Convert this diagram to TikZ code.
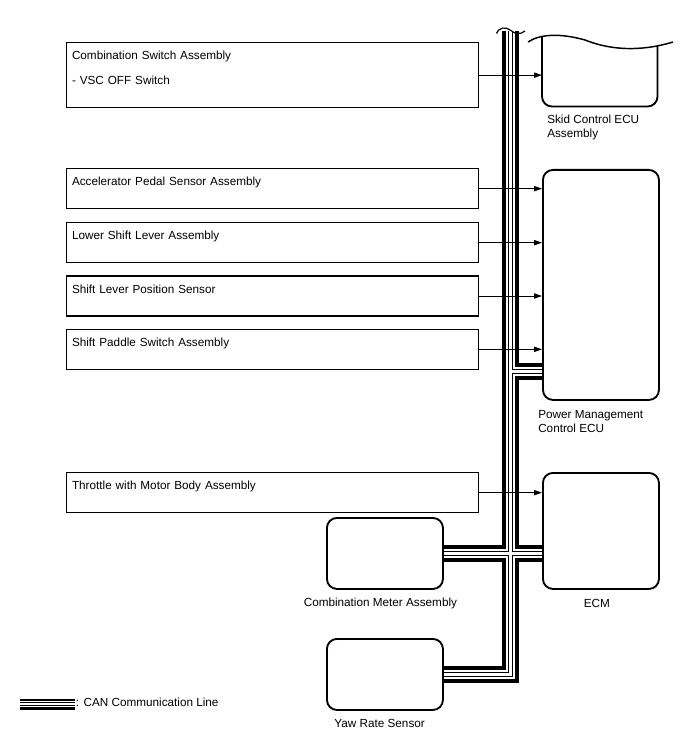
\documentclass[tikz,border=0pt]{standalone}
\usepackage{fontspec}
\setmainfont{Liberation Sans}
\usetikzlibrary{arrows.meta,positioning}

\begin{document}
\begin{tikzpicture}[
    x=0.75pt, y=-0.75pt,
    every node/.style={font=\fontsize{8.8}{10.5}\selectfont},
    inbox/.style={draw, line width=1pt, anchor=north west, align=left, text width=301pt, inner xsep=4pt, inner ysep=0pt, text height=12.75pt, text depth=17.25pt},
    ecubox/.style={draw, line width=1.4pt, rounded corners=7.5pt, anchor=north west, minimum width=87pt, inner sep=0pt},
    lbl/.style={inner sep=0pt, align=left},
    arr/.style={-{Triangle[length=6pt, width=4pt]}, line width=0.75pt},
    canline/.style={line width=12.75pt, line join=miter, postaction={draw, white, line width=7pt, line join=miter, postaction={draw, black, line width=4.3pt, line join=miter, postaction={draw, white, line width=2.2pt, line join=miter}}}},
    legline/.style={line width=8.25pt, postaction={draw, white, line width=3.9pt, postaction={draw, black, line width=2.5pt, postaction={draw, white, line width=0.8pt}}}}
]
\useasboundingbox (0,0) rectangle (688,755);

% input side
\node[inbox, text depth=36pt] (csw) at (66,42) {Combination Switch Assembly\\[8.25pt]- VSC OFF Switch};
\node[inbox] (acc) at (66,168) {Accelerator Pedal Sensor Assembly};
\node[inbox, below=9.5pt of acc] (lsl) {Lower Shift Lever Assembly};
\node[inbox, below=9pt of lsl] (slp) {Shift Lever Position Sensor};
\node[inbox, below=9pt of slp] (spd) {Shift Paddle Switch Assembly};
\node[inbox] (thr) at (66,472) {Throttle with Motor Body Assembly};

% ECUs
\node[minimum width=86.25pt, minimum height=51.75pt, anchor=north west, inner sep=0pt] (skid) at (542,37) {};
\node[ecubox, minimum height=172.5pt] (pm) at (542,169) {};
\node[ecubox, minimum height=87pt] (ecm) at (542,472) {};
\node[ecubox, minimum height=53.25pt] (cm) at (326,517) {};
\node[ecubox, minimum height=53.25pt] (yaw) at (326,638) {};

\node[lbl, below right=6pt and 3.75pt of skid.south west] (skidlbl) {Skid Control ECU\\Assembly};
\node[lbl, below right=6.75pt and -3pt of pm.south west] (pmlbl) {Power Management\\Control ECU};
\node[lbl, below=6.75pt of ecm.south, xshift=-3pt] (ecmlbl) {ECM};
\node[lbl, below=6pt of cm.south, xshift=-3.4pt] (cmlbl) {Combination Meter Assembly};
\node[lbl, below=6pt of yaw.south, xshift=-4pt] (yawlbl) {Yaw Rate Sensor};

% skid control ECU, cut off at the top
\draw[line width=1.4pt, rounded corners=7.5pt] (skid.north west) -- (skid.south west) -- (skid.south east) -- ([yshift=-6.75pt]skid.north east);
\draw[line width=1.1pt] (528,42) .. controls (540,34) and (560,33) .. (585,40) .. controls (610,50) and (640,52) .. (673,42);

% CAN bus
\coordinate (bustop) at (510.5,31);
\coordinate (pmtap) at (510.5,371.5);
\draw[canline] (bustop) |- (yaw.east)
    (pmtap) -- (pmtap -| pm.west)
    (cm.east) -- (cm.east -| ecm.west);
\draw[line width=0.9pt] (496.5,33.5) .. controls (499,27) and (506,26.5) .. (511,30.5) .. controls (515,34) and (520,35) .. (525,31);

% signal lines
\draw[arr] (csw.east) -- (csw.east -| skid.west);
\draw[arr] (acc.east) -- (acc.east -| pm.west);
\draw[arr] (lsl.east) -- (lsl.east -| pm.west);
\draw[arr] (slp.east) -- (slp.east -| pm.west);
\draw[arr] (spd.east) -- (spd.east -| pm.west);
\draw[arr] (thr.east) -- (thr.east -| ecm.west);

% legend
\coordinate (lgA) at (20,704);
\coordinate (lgB) at (75,704);
\draw[legline] (lgA) -- (lgB);
\node[lbl, right=0.5pt of lgB, yshift=1pt] (lgtxt) {: CAN Communication Line};
\end{tikzpicture}
\end{document}
